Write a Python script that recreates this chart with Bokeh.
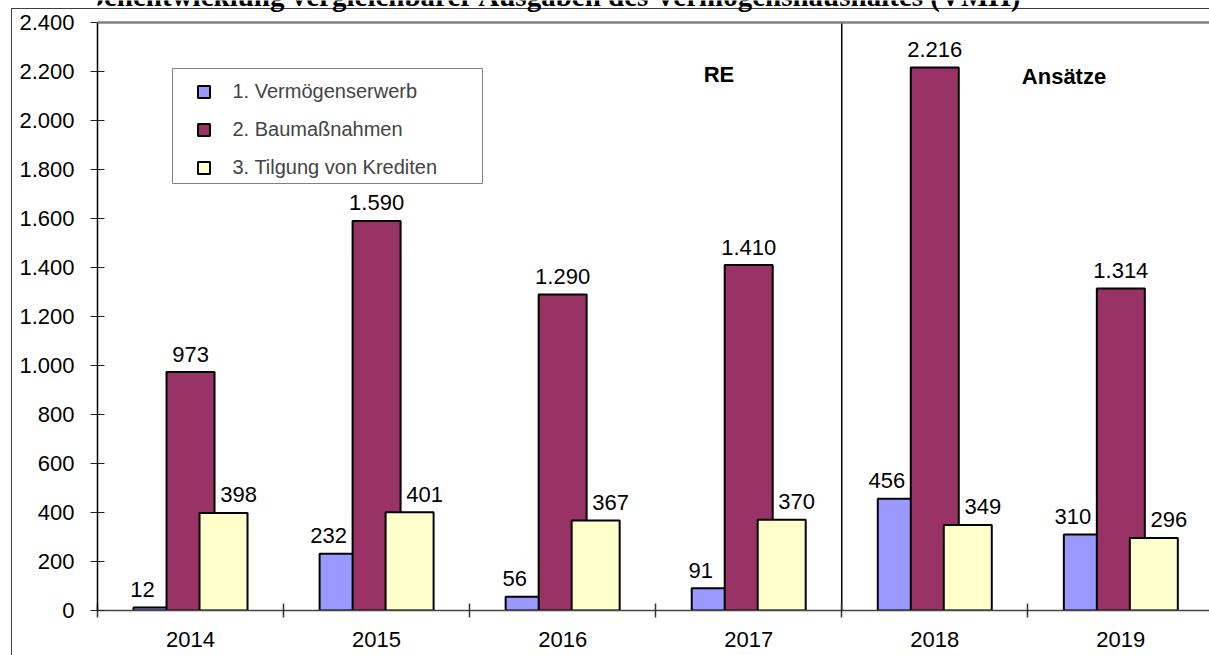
from bokeh.plotting import figure
from bokeh.models import (Range1d, FixedTicker, Label, Span, BoxAnnotation,
                          Legend, LegendItem)
from bokeh.embed import file_html
from bokeh.resources import INLINE
from bokeh.core.properties import value

# ---------------- data ----------------
years = ["2014", "2015", "2016", "2017", "2018", "2019"]
re_years = ["2014", "2015", "2016", "2017"]          # "RE" (results); the rest are "Ansätze"
series_names = ["1. Vermögenserwerb", "2. Baumaßnahmen", "3. Tilgung von Krediten"]
vermoegenserwerb = [12, 232, 56, 91, 456, 310]
baumassnahmen = [973, 1590, 1290, 1410, 2216, 1314]
tilgung = [398, 401, 367, 370, 349, 296]
y_ticks = [0, 200, 400, 600, 800, 1000, 1200, 1400, 1600, 1800, 2000, 2200, 2400]
title_text = "Ausgabenentwicklung vergleichbarer Ausgaben des Vermögenshaushaltes (VMH)"
unit_text = "T€"
section_labels = ["RE", "Ansätze"]

# ---------------- styles / layout ----------------
colors = ["#9999FF", "#993366", "#FFFFCC"]
W, H = 1209, 655
FL, FT, FB = 97, 22, 45
CAT_PX = 186.06
x_end = (W - FL) / CAT_PX
Y_MAX = y_ticks[-1]
PX_PER_UNIT = (H - FT - FB) / Y_MAX
Y_TOP = (H - FB) / PX_PER_UNIT          # frame reaches the canvas top
BAR_W = 48 / CAT_PX
BAR_STEP = 33 / CAT_PX
FONT = "Liberation Sans"


def px_x(px):
    return (px - FL) / CAT_PX


def px_y(py):
    return (H - FB - py) / PX_PER_UNIT


def de(v):
    return f"{v:,}".replace(",", ".")


# outer chart-area border (left and top edge) drawn as CSS background lines
border_bg = ("linear-gradient(#404040, #404040) 11px 8px / 1px 100% no-repeat, "
             "linear-gradient(#404040, #404040) 11px 8px / 100% 1px no-repeat, white")

p = figure(width=W, height=H, output_backend="svg", toolbar_location=None,
           x_range=Range1d(0, x_end), y_range=Range1d(0, Y_TOP),
           min_border_left=FL, min_border_right=0, min_border_top=0,
           min_border_bottom=FB)
p.margin = (0, 0, 0, 0)
p.styles = {"background": border_bg}
p.title.visible = False
p.outline_line_color = None
p.grid.visible = False
p.background_fill_alpha = 0
p.border_fill_alpha = 0

centers = [i + 0.5 for i in range(len(years))]
boundaries = list(range(len(years) + 1))

# x axis
xa = p.xaxis[0]
xa.ticker = FixedTicker(ticks=centers, minor_ticks=boundaries)
xa.major_label_overrides = {c: y for c, y in zip(centers, years)}
xa.major_tick_in = 0
xa.major_tick_out = 0
xa.minor_tick_in = 7
xa.minor_tick_out = 7
xa.minor_tick_line_color = "#333333"
xa.minor_tick_line_width = 1.5
xa.axis_line_color = "#444444"
xa.axis_line_width = 1.5
xa.major_label_text_font = FONT
xa.major_label_text_font_size = "22px"
xa.major_label_text_color = "black"
xa.major_label_standoff = 14

# y axis
ya = p.yaxis[0]
ya.bounds = (0, Y_MAX)
ya.ticker = FixedTicker(ticks=y_ticks, minor_ticks=[])
ya.major_label_overrides = {t: de(t) for t in y_ticks}
ya.major_tick_in = 7
ya.major_tick_out = 7
ya.major_tick_line_color = "#222222"
ya.major_tick_line_width = 1
ya.axis_line_color = "black"
ya.axis_line_width = 1.5
ya.major_label_text_font = FONT
ya.major_label_text_font_size = "22px"
ya.major_label_text_color = "black"
ya.major_label_standoff = 16

# plot-area top line and RE / Ansätze separator
p.add_layout(Span(location=Y_MAX, dimension="width", line_color="#808080", line_width=2.5))
sep_x = boundaries[len(re_years)]
p.segment(x0=[sep_x], y0=[0], x1=[sep_x], y1=[Y_MAX], line_color="black", line_width=1.5)

# legend box (drawn behind the legend entries)
p.add_layout(BoxAnnotation(left=px_x(172), right=px_x(482), top=px_y(68), bottom=px_y(183),
                           fill_color="white", fill_alpha=1, line_color="#808080",
                           line_width=1, line_alpha=1))

# bars
series = [vermoegenserwerb, baumassnahmen, tilgung]
bar_renderers = []
for k, (vals, col) in enumerate(zip(series, colors)):
    off = (k - 1) * BAR_STEP
    r = p.vbar(x=[c + off for c in centers], top=vals, width=BAR_W, bottom=0,
               fill_color=col, line_color="black", line_width=2)
    bar_renderers.append(r)

# data labels
for k, vals in enumerate(series):
    off = (k - 1) * BAR_W
    p.text(x=[c + off for c in centers], y=vals, text=[de(v) for v in vals],
           text_align="center", text_baseline="alphabetic", y_offset=-18,
           text_font=value(FONT), text_font_size="22px", text_color="black")

# legend
legend = Legend(items=[LegendItem(label=n, renderers=[r]) for n, r in zip(series_names, bar_renderers)],
                location=(195.5 - FL, H - FB - 182), orientation="vertical",
                padding=0, spacing=8, glyph_width=15, glyph_height=15,
                label_standoff=22, label_height=30,
                label_text_font=FONT, label_text_font_size="20px",
                label_text_baseline="middle",
                border_line_color=None, background_fill_alpha=0)
p.add_layout(legend)

# texts
p.add_layout(Label(x=px_x(48.5), y=px_y(50), text=unit_text, text_align="center",
                   text_baseline="middle", text_font=FONT, text_font_style="bold",
                   text_font_size="19px", text_color="black"))
p.add_layout(Label(x=px_x(718.5), y=px_y(74), text=section_labels[0], text_align="center",
                   text_baseline="middle", text_font=FONT, text_font_style="bold",
                   text_font_size="22px", text_color="black"))
p.add_layout(Label(x=px_x(1063.5), y=px_y(76), text=section_labels[1], text_align="center",
                   text_baseline="middle", text_font=FONT, text_font_style="bold",
                   text_font_size="22px", text_color="black"))
p.add_layout(Label(x=px_x(10), y=px_y(-4.5), text=title_text, text_align="left",
                   text_baseline="middle", text_font="Liberation Serif",
                   text_font_style="bold", text_font_size="29px", text_color="black"))

open("out.html", "w").write(file_html(p, INLINE))
